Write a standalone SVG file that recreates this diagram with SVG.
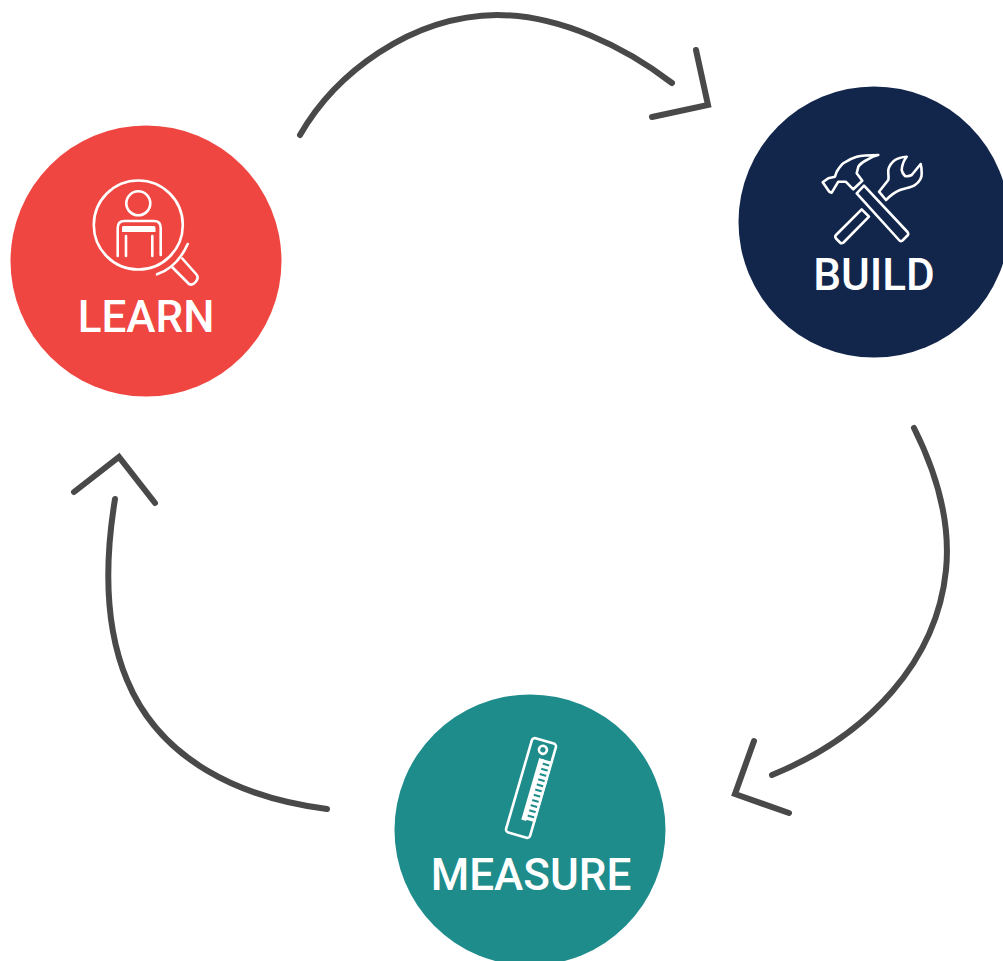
<svg xmlns="http://www.w3.org/2000/svg" width="1003" height="961" viewBox="0 0 1003 961">
<style>
.arc{fill:none;stroke:#494949;stroke-width:6;stroke-linecap:round;stroke-linejoin:miter}
.ic{fill:none;stroke:#fff;stroke-width:2.6;stroke-linecap:round;stroke-linejoin:round}
.lb{font-family:Roboto,"Liberation Sans",sans-serif;font-weight:500;font-size:44px;fill:#fff;text-anchor:middle}
</style>
<rect width="1003" height="961" fill="#fff"/>
<g id="connectors">
<path class="arc" d="M300 135C335 74 410 16 497 15C560 15 625 47 672 83"/>
<path class="arc" d="M696 50L708 105L652 117"/>
<path class="arc" d="M914 428C935 470 951 520 946 570C937 660 870 735 772 775"/>
<path class="arc" d="M754 741L735 794L789 813"/>
<path class="arc" d="M327 809C240 798 160 760 127 680C104 625 105 560 115 499"/>
<path class="arc" d="M74 492L119 457L155 503"/>
</g>
<g id="learn">
<circle cx="146" cy="261" r="135.500" fill="#ef4641"/>
<circle class="ic" cx="138.300" cy="225" r="44.500"/>
<circle class="ic" cx="138.300" cy="203.300" r="12"/>
<path class="ic" d="M117.700 256V228Q117.700 221 124.500 221H154Q160.700 221 160.700 228V255"/>
<path d="M123 226H154Q155.500 226 155.500 228V232H122V228Q122 226 123 226Z" fill="#fff"/>
<path class="ic" d="M126 236V256M152.300 236V256"/>
<path class="ic" d="M157 274.300C170 270 181 259 187.700 244"/>
<path class="ic" d="M172.500 267.500L189 284Q192.500 286 196 281.500Q199 277.500 196.500 274.500L182.300 258.500"/>
<text class="lb" x="146" y="332">LEARN</text>
</g>
<g id="build">
<circle cx="874" cy="222" r="135.500" fill="#12264b"/>
<path class="ic" d="M856.700 193.300L864 185.700L907.500 232Q909 234 907.500 235.500L902.500 240.500Q900.500 242 899 240Z"/>
<path class="ic" d="M861.700 209.300L869 216.700L843.500 242.500Q841.500 244 840 242.500L836 238.500Q834.500 236.500 836 235Z"/>
<path class="ic" d="M822.700 182.300L828.300 178.300L835 176.700L836.700 171.700C839 168 841 165 843.300 163.300C848 160 852 158 856.700 156.700C863 155 871 155 878.300 155C873 156 870 158 866.700 160C863 162 860 164 858.300 166.700L856.700 173.300L862.300 180.700L853.300 189.300L845.700 181.700L838.300 181.700L831.700 192.700L829.300 191.700Z"/>
<path class="ic" d="M879 191.700L886 200C890 196 895 192 900 190C905 188 911 188 915 185C919 182 922 178 921.700 173.300C921.700 170 921.500 167 920.700 164L911.700 175C909 176.500 907 176.500 905 176C903 174 902 172 901.700 170C902 165 904 160 906.700 156.700C902 157 898 158 895 160C891 163 889 166 888.300 170C888 174 889 177 888.300 180Z"/>
<text class="lb" x="874" y="290">BUILD</text>
</g>
<g id="measure">
<circle cx="530" cy="830" r="135.500" fill="#1f8c8c"/>
<g transform="translate(531 788) rotate(16.200)">
<rect class="ic" x="-12.500" y="-49" width="25" height="98" rx="3"/>
<circle class="ic" cx="0.800" cy="-40" r="4"/>
<path d="M2 -31V33" stroke="#fff" stroke-width="5" fill="none"/>
<path d="M8 -31V33" stroke="#fff" stroke-width="11" stroke-dasharray="3.300 2.100" fill="none"/>
</g>
<text class="lb" x="531" y="890">MEASURE</text>
</g>
</svg>
